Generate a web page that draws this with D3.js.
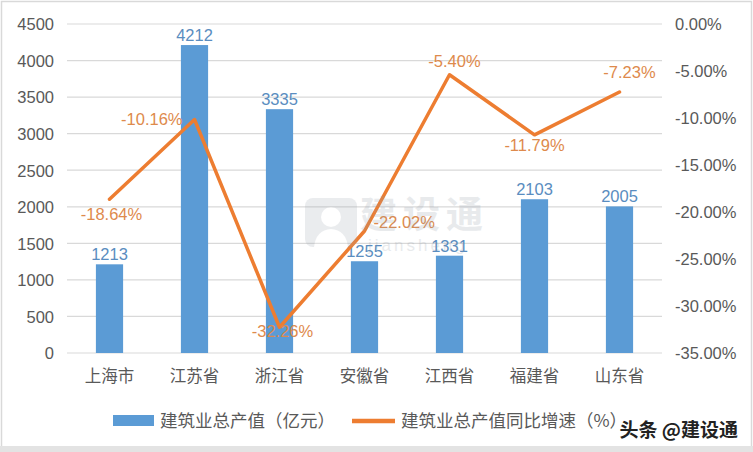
<!DOCTYPE html>
<html><head><meta charset="utf-8">
<script src="https://cdn.jsdelivr.net/npm/d3@7"></script>
<style>
html,body{margin:0;padding:0;background:#fff;}
svg{display:block;font-family:"Liberation Sans","Noto Sans CJK SC",sans-serif;}
</style></head>
<body>
<script>
const categories = ["上海市","江苏省","浙江省","安徽省","江西省","福建省","山东省"];
const outputValues = [1213, 4212, 3335, 1255, 1331, 2103, 2005];
const growthValues = [-18.64, -10.16, -32.26, -22.02, -5.40, -11.79, -7.23];
const leftTicks = [0,500,1000,1500,2000,2500,3000,3500,4000,4500];
const rightTicks = [0,-5,-10,-15,-20,-25,-30,-35];
const seriesNames = ["建筑业总产值（亿元）","建筑业总产值同比增速（%）"];

// label offsets for line data labels (layout only)
const lineLabelOffsets = [[2,21,"middle"],[-12,5,"end"],[3,10,"middle"],[9,-3,"start"],[5,-8,"middle"],[0,16,"middle"],[10,-14,"middle"]];

const pct = d => (d < 0 ? "-" : "") + Math.abs(d).toFixed(2) + "%";

const W = 753, H = 452;
const svg = d3.select("body").append("svg").attr("width", W).attr("height", H);

svg.append("rect").attr("x",0).attr("y",0).attr("width",W).attr("height",H).attr("fill","#fff");
svg.append("rect").attr("x",1.5).attr("y",1.5).attr("width",W-3).attr("height",H-3)
  .attr("fill","none").attr("stroke","#d9d9d9").attr("stroke-width",1.5);

const x = d3.scaleBand().domain(categories).range([67,662]).paddingInner(0.68).paddingOuter(0.34);
const yL = d3.scaleLinear().domain([0,4500]).range([353,24]);
const yR = d3.scaleLinear().domain([-35,0]).range([353,24]);
const cx = d => x(d) + x.bandwidth()/2;

// gridlines
svg.append("g").selectAll("line").data(leftTicks).join("line")
  .attr("x1",67).attr("x2",662).attr("y1",d=>yL(d)).attr("y2",d=>yL(d))
  .attr("stroke","#d9d9d9").attr("stroke-width",1.2);

// left axis
const axL = d3.axisLeft(yL).tickValues(leftTicks).tickSize(0).tickPadding(0).tickFormat(d => String(d));
const gL = svg.append("g").attr("transform","translate(54,0)").call(axL);
gL.select(".domain").remove();
gL.selectAll("text").attr("font-size",16.5).attr("fill","#595959")
  .attr("font-family","Liberation Sans, sans-serif").attr("dy","0.35em");

// right axis
const axR = d3.axisRight(yR).tickValues(rightTicks).tickSize(0).tickPadding(0)
  .tickFormat(pct);
const gR = svg.append("g").attr("transform","translate(675,0)").call(axR);
gR.select(".domain").remove();
gR.selectAll("text").attr("font-size",16.5).attr("fill","#595959")
  .attr("font-family","Liberation Sans, sans-serif").attr("dy","0.35em");

// category axis
const axX = d3.axisBottom(x).tickSize(0).tickPadding(0);
const gX = svg.append("g").attr("transform","translate(0,370)").call(axX);
gX.select(".domain").remove();
gX.selectAll("text").attr("font-size",16.5).attr("fill","#595959")
  .attr("font-family","Noto Sans CJK SC, sans-serif").attr("dy","0.75em");

// bars
svg.append("g").selectAll("rect").data(outputValues).join("rect")
  .attr("x",(d,i)=>x(categories[i])).attr("width",x.bandwidth())
  .attr("y",d=>yL(d)).attr("height",d=>yL(0)-yL(d)).attr("fill","#5B9BD5");

// bar labels
svg.append("g").selectAll("text").data(outputValues).join("text")
  .attr("x",(d,i)=>cx(categories[i])).attr("y",d=>yL(d)-4)
  .attr("text-anchor","middle").attr("font-size",16.5).attr("fill","#5A8DC0")
  .text(d=>d);

// line
const line = d3.line().x((d,i)=>cx(categories[i])).y(d=>yR(d));
svg.append("path").datum(growthValues).attr("d",line).attr("fill","none")
  .attr("stroke","#ED7D31").attr("stroke-width",3.5).attr("stroke-linejoin","round").attr("stroke-linecap","round");

// line labels
svg.append("g").selectAll("text").data(growthValues).join("text")
  .attr("x",(d,i)=>cx(categories[i]) + lineLabelOffsets[i][0])
  .attr("y",(d,i)=>yR(d) + lineLabelOffsets[i][1])
  .attr("text-anchor",(d,i)=>lineLabelOffsets[i][2])
  .attr("font-size",16.5).attr("fill","#DE8A4C")
  .text(pct);

// central watermark
const wm = svg.append("g").attr("opacity",0.2);
wm.append("rect").attr("x",305).attr("y",198).attr("width",52).attr("height",49).attr("rx",8).attr("fill","#9aa3ad");
wm.append("circle").attr("cx",331).attr("cy",217).attr("r",10).attr("fill","#fff");
wm.append("path").attr("d","M314,247 Q316,230 331,229 Q346,230 348,247 Z").attr("fill","#fff");
wm.append("text").attr("x",360).attr("y",228).attr("font-size",37).attr("font-weight","bold")
  .attr("font-family","Noto Sans CJK SC, sans-serif").attr("fill","#8e98a3").attr("letter-spacing",6).text("建设通");
wm.append("text").attr("x",368).attr("y",251).attr("font-size",17)
  .attr("fill","#8e98a3").attr("letter-spacing",3).text("jiansheng");

// legend
const lg = svg.append("g");
lg.append("rect").attr("x",113).attr("y",415).attr("width",41).attr("height",11).attr("fill","#5B9BD5");
lg.append("text").attr("x",160).attr("y",427).attr("font-size",17.5).attr("fill","#595959")
  .attr("font-family","Noto Sans CJK SC, sans-serif").text(seriesNames[0]);
lg.append("line").attr("x1",352).attr("x2",395).attr("y1",421).attr("y2",421)
  .attr("stroke","#ED7D31").attr("stroke-width",4.5);
lg.append("text").attr("x",401).attr("y",427).attr("font-size",17.5).attr("fill","#595959")
  .attr("font-family","Noto Sans CJK SC, sans-serif").text(seriesNames[1]);

// bottom strip
svg.append("rect").attr("x",0).attr("y",446).attr("width",W).attr("height",6).attr("fill","#e3e3e3");

// corner watermark
svg.append("text").attr("x",738).attr("y",437).attr("text-anchor","end")
  .attr("font-size",19).attr("font-weight","bold").attr("font-family","Noto Sans CJK SC, sans-serif")
  .attr("fill","#222").attr("stroke","#fff").attr("stroke-width",3).attr("paint-order","stroke")
  .text("头条 @建设通");
</script>
</body></html>
